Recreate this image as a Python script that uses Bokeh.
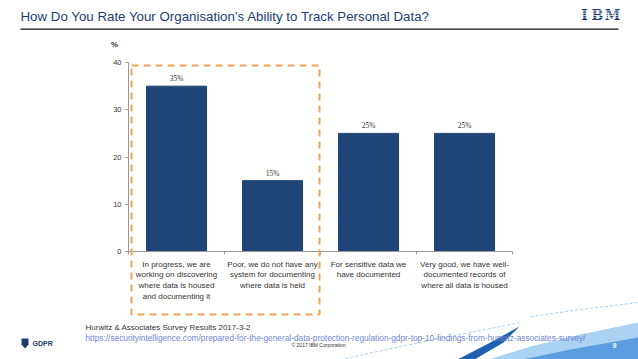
from bokeh.plotting import figure
from bokeh.models import (Label, LabelSet, ColumnDataSource, BoxAnnotation,
                          FixedTicker, Range1d)
from bokeh.embed import file_html
from bokeh.resources import INLINE

# ---- data ----
categories = [
    "In progress, we are\nworking on discovering\nwhere data is housed\nand documenting it",
    "Poor, we do not have any\nsystem for documenting\nwhere data is held",
    "For sensitive data we\nhave documented",
    "Very good, we have well-\ndocumented records of\nwhere all data is housed",
]
values = [35, 15, 25, 25]
value_labels = ["35%", "15%", "25%", "25%"]
y_ticks = [0, 10, 20, 30, 40]

title_text = "How Do You Rate Your Organisation\u2019s Ability to Track Personal Data?"
source_text = "Hurwitz & Associates Survey Results 2017-3-2"
url_text = "https://securityintelligence.com/prepared-for-the-general-data-protection-regulation-gdpr-top-10-findings-from-hurwitz-associates-survey/"

BAR = "#1F4678"
ORANGE = "#F0A45A"
NAVY = "#1D3C72"
FONT = "Liberation Sans"

W, H = 638, 359
# plot geometry in canvas pixels: category band 96px, y 4.725 px per unit
X0, Y0, PX_CAT, PX_UNIT = 128, 251, 96.0, 4.725

n = len(categories)
xpos = [i + 0.5 for i in range(n)]

p = figure(width=W, height=H, output_backend="svg", toolbar_location=None,
           x_range=Range1d(-X0 / PX_CAT, (W - X0) / PX_CAT),
           y_range=Range1d(-(H - Y0) / PX_UNIT, Y0 / PX_UNIT),
           min_border=0)
p.outline_line_color = None
p.xgrid.grid_line_color = None
p.ygrid.grid_line_color = None
p.background_fill_color = "white"
p.border_fill_color = "white"
p.extra_x_ranges = {"px": Range1d(0, W)}
p.extra_y_ranges = {"px": Range1d(H, 0)}


def patch(xs, ys, color):
    p.patch(xs, ys, x_range_name="px", y_range_name="px", fill_color=color, line_color=None)


def dline(xs, ys, color, dash="3 2"):
    p.line(xs, ys, x_range_name="px", y_range_name="px", line_color=color, line_width=1,
           line_dash=dash)


# swoosh decoration bottom right (drawn first, behind text)
dline([345, 400, 460, 520], [358, 346, 334, 322], "#A8CFF0")
dline([530, 580, 638], [316, 309, 302], "#A8CFF0")
patch([488, 530, 580, 638, 638], [359, 346, 334, 322, 359], "#A9D2F3")
patch([522, 570, 638, 638], [359, 349, 337, 359], "#5B9DE0")
patch([457, 488, 519, 503, 474], [359, 343, 326, 342, 359], "#1F5FAF")

src = ColumnDataSource(dict(x=xpos, val=values, lab=value_labels))
p.vbar(x="x", top="val", width=0.625, source=src, fill_color=BAR, line_color=BAR)
p.add_layout(LabelSet(x="x", y="val", text="lab", source=src, y_offset=3,
                      text_align="center", text_baseline="bottom",
                      text_font=FONT, text_font_size="7.5px", text_color="#333333"))

# axes (drawn inside the frame at fixed positions)
yax = p.yaxis[0]
yax.fixed_location = 0
yax.bounds = (0, 40)
yax.ticker = FixedTicker(ticks=y_ticks)
yax.minor_tick_line_color = None
yax.major_tick_out = 3
yax.major_tick_in = 0
yax.major_tick_line_color = "#999999"
yax.axis_line_color = "#999999"
yax.major_label_text_font = FONT
yax.major_label_text_font_size = "7.5px"
yax.major_label_text_color = "#333333"
yax.major_label_standoff = 4

xax = p.xaxis[0]
xax.fixed_location = 0
xax.bounds = (0, n)
xax.ticker = FixedTicker(ticks=xpos, minor_ticks=list(range(n + 1)))
xax.major_label_overrides = {x: c for x, c in zip(xpos, categories)}
xax.major_tick_line_color = None
xax.minor_tick_line_color = "#999999"
xax.minor_tick_out = 3
xax.minor_tick_in = 0
xax.axis_line_color = "#999999"
xax.major_label_text_font = FONT
xax.major_label_text_font_size = "8px"
xax.major_label_text_color = "#333333"
xax.major_label_standoff = 2
xax.major_label_text_line_height = 1.2


def lab(x, y, text, size, color="#333333", align="left", style="normal", font=FONT):
    p.add_layout(Label(x=x, y=y, x_range_name="px", y_range_name="px", text=text,
                       text_font=font, text_font_size=size, text_color=color,
                       text_align=align, text_baseline="middle", text_font_style=style))


def box(l, r, t, b, **kw):
    p.add_layout(BoxAnnotation(left=l, right=r, top=t, bottom=b,
                               x_range_name="px", y_range_name="px", **kw))


# "%" unit label
lab(114, 44, "%", "8px", "#333333", align="center", style="bold")

# dashed highlight box
box(131, 319, 65, 314, fill_color=None, fill_alpha=0, line_color=ORANGE, line_alpha=1,
    line_width=2, line_dash="7 5")

# title + rule
lab(20, 16, title_text, "13.3px", NAVY)
box(20, 618, 28, 29.3, fill_color="#111111", fill_alpha=1, line_color=None)

# IBM logo
lab(584, 14, "I", "14px", NAVY, align="center", style="bold", font="DejaVu Serif")
lab(597, 14, "B", "14px", NAVY, align="center", style="bold", font="DejaVu Serif")
lab(612, 14, "M", "14px", NAVY, align="center", style="bold", font="DejaVu Serif")
for yy in (10.0, 12.3, 14.6, 16.9):
    box(577, 621, yy, yy + 0.7, fill_color="white", fill_alpha=1, line_color=None)

# footer
lab(85, 327, source_text, "8px", "#333333")
lab(85, 337, url_text, "8.3px", "#7186D4")
lab(318, 344, "\u00a9 2017 IBM Corporation", "5px", "#333333", align="center")
lab(614, 345, "9", "7px", "white", align="center", style="bold")

# GDPR logo
patch([21, 28, 28, 24.5, 21], [338, 338, 344, 348, 344], NAVY)
lab(32, 343, "GDPR", "7px", NAVY, style="bold")

open("out.html", "w").write(file_html(p, INLINE))
